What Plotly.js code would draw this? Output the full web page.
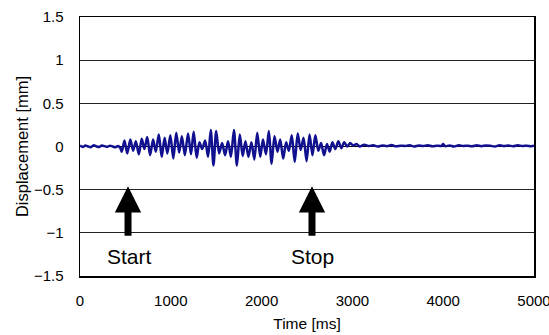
<!DOCTYPE html>
<html><head><meta charset="utf-8">
<script src="https://cdn.plot.ly/plotly-3.0.1.min.js"></script>
<style>html,body{margin:0;padding:0;background:#fff}#chart{width:549px;height:335px}</style>
</head><body><div id="chart"></div>
<script>
// Time [ms]
const timeMs = [
  0,30,60,90,120,150,180,210,240,270,300,330,360,390,420,445,
  460,490,520,555,585,615,648,680,710,740,772,805,835,868,900,932,962,995,
  1028,1060,1092,1122,1155,1190,1222,1252,1285,1315,1345,1378,1410,1440,1470,1500,
  1532,1565,1598,1630,1662,1695,1728,1760,1792,1822,1855,1888,1920,1952,1985,2015,
  2048,2080,2110,2142,2175,2205,2238,2270,2300,2332,2365,2398,2430,2462,2495,2528,
  2560,2592,2625,2655,2688,2720,2750,2780,2812,2845,2878,2910,2942,2975,3010,3045,3080,
  3130,3180,3230,3280,3330,3380,3430,3480,3530,3580,3630,3680,3730,3780,3830,3880,3930,
  3980,4000,4020,4070,4120,4170,4220,4270,4320,4370,4420,4470,4520,4570,4620,4670,4720,
  4770,4820,4870,4920,4970,5000
];
// Displacement [mm]
const displacement = [
  0.01,-0.005,0.012,0.0,-0.008,0.015,0.002,-0.006,0.012,0.004,-0.004,0.01,0.0,-0.008,0.006,-0.02,
  -0.06,0.07,-0.08,0.08,-0.05,0.06,-0.09,0.09,-0.03,0.11,-0.10,0.08,-0.06,0.14,-0.12,0.10,-0.08,0.13,
  -0.14,0.16,-0.07,0.12,-0.10,0.15,-0.09,0.17,-0.13,0.05,-0.03,0.07,-0.12,0.19,-0.22,0.18,
  -0.08,0.04,-0.10,0.06,-0.12,0.19,-0.22,0.14,-0.11,0.06,-0.12,0.05,-0.15,0.16,-0.12,0.08,
  -0.09,0.18,-0.20,0.12,-0.06,0.08,-0.14,0.05,-0.05,0.13,-0.18,0.15,-0.04,0.10,-0.17,0.14,
  -0.10,0.13,-0.05,0.04,-0.10,0.03,-0.06,0.05,-0.03,0.06,-0.02,0.05,0.0,0.04,0.01,0.03,0.0,
  0.02,0.005,0.015,0.0,0.012,0.004,0.016,0.002,0.01,0.006,0.014,0.0,0.012,0.005,0.015,0.002,0.01,
  0.006,0.03,0.004,0.012,0.0,0.014,0.006,0.01,0.002,0.015,0.004,0.012,0.008,0.0,0.014,0.005,0.012,
  0.002,0.015,0.006,0.01,0.004,0.01
];
const yTicks = [-1.5,-1,-0.5,0,0.5,1,1.5];
const xTicks = [0,1000,2000,3000,4000,5000];
const markers = [
  {label:"Start", time:529, textTime:550},
  {label:"Stop",  time:2555, textTime:2566}
];

const font = "Liberation Sans, Arial, sans-serif";
const annotations = [];
markers.forEach(m => {
  annotations.push({x:m.time, y:-0.46, xref:'x', yref:'y', text:'', showarrow:true,
    arrowhead:2, arrowsize:0.75, arrowwidth:7, arrowcolor:'#000', ax:0, ay:51});
  annotations.push({x:m.textTime, y:-1.27, xref:'x', yref:'y', text:m.label, showarrow:false,
    font:{family:font, size:21, color:'#000'}});
});

Plotly.newPlot('chart', [{
  x: timeMs, y: displacement, type:'scatter', mode:'lines',
  line:{color:'#111190', width:2.5, shape:'spline', smoothing:0.8}
}], {
  width:549, height:335,
  margin:{l:80, r:15, t:17, b:59},
  paper_bgcolor:'#fff', plot_bgcolor:'#fff',
  showlegend:false,
  font:{family:font, size:15, color:'#000'},
  xaxis:{range:[0,5000], tickvals:xTicks, ticktext:xTicks.map(String), showgrid:false, zeroline:false,
    showline:true, linecolor:'#000', linewidth:1.5, mirror:true, ticks:'', ticklabelstandoff:10,
    ticklabeloverflow:'allow',
    title:{text:'Time [ms]', font:{size:15.5}, standoff:10}},
  yaxis:{range:[-1.5,1.5], tickvals:yTicks, showgrid:true, gridcolor:'#222', gridwidth:1,
    zeroline:true, zerolinecolor:'#000', zerolinewidth:1,
    showline:true, linecolor:'#000', linewidth:1.5, mirror:true, ticks:'', ticklabelstandoff:12,
    title:{text:'Displacement [mm]', font:{size:16.5}, standoff:1}},
  annotations: annotations
}, {staticPlot:true, displayModeBar:false});
</script></body></html>
